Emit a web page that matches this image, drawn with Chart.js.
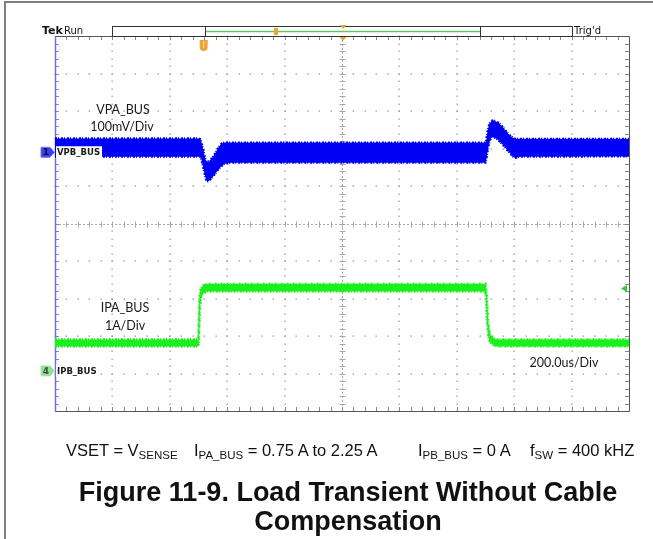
<!DOCTYPE html>
<html>
<head>
<meta charset="utf-8">
<script src="https://cdn.jsdelivr.net/npm/chart.js@4.4.1/dist/chart.umd.min.js"></script>
<style>
  html, body { margin: 0; padding: 0; background: #fff; }
  #wrap { position: relative; width: 653px; height: 539px; overflow: hidden; }
  #scope { position: absolute; left: 0; top: 0; }
  .frame-top { position: absolute; left: 4px; top: 1px; width: 649px; height: 2px; background: #808080; }
  .frame-left { position: absolute; left: 4px; top: 1px; width: 2px; height: 538px; background: #808080; }
  .cap { position: absolute; top: 442px; font: 16.5px "Liberation Sans", Arial, sans-serif; color: #111; white-space: nowrap; line-height: 16px; }
  .cap sub { font-size: 11.5px; vertical-align: -3px; line-height: 0; }
  .title { position: absolute; left: 0; width: 696px; top: 478px; text-align: center;
           font: bold 27px "Liberation Sans", Arial, sans-serif; line-height: 29px; color: #111; }
</style>
</head>
<body>
<div id="wrap">
  <canvas id="scope" width="653" height="539"></canvas>
  <div class="frame-top"></div>
  <div class="frame-left"></div>
  <div class="cap" style="left:66px">VSET = V<sub>SENSE</sub></div>
  <div class="cap" style="left:194px">I<sub>PA_BUS</sub> = 0.75 A to 2.25 A</div>
  <div class="cap" style="left:418px">I<sub>PB_BUS</sub> = 0 A</div>
  <div class="cap" style="left:530px">f<sub>SW</sub> = 400 kHZ</div>
  <div class="title">Figure 11-9. Load Transient Without Cable<br>Compensation</div>
</div>
<script>
// Horizontal: 200 us/div, 10 divisions
const timeSpanUs = [0, 2000];
const usPerDiv = 200;

// Channel 1, VPA_BUS: envelope of the switching ripple, mV relative to the channel marker
const vpaTimeUs = [0, 500, 506, 510, 514, 518, 522, 526, 530, 535, 542, 550, 558, 566, 574, 582, 590, 600, 615,
                   1000, 1500, 1503, 1507, 1511, 1516, 1522, 1528, 1535, 1545, 1555, 1565, 1575, 1585, 1597, 1605, 1620, 2000];
const vpaUpperMv = [37, 37, 35, 28, 16, 2, -12, -22, -26, -25, -20, -12, -3, 8, 18, 24, 26, 26, 26,
                    26, 26, 35, 55, 70, 79, 84, 85, 83, 79, 72, 63, 53, 45, 38, 36, 36, 36];
const vpaLowerMv = [-12, -12, -12, -20, -32, -46, -60, -72, -78, -77, -72, -65, -57, -49, -42, -36, -31, -29, -28,
                    -28, -28, -20, 0, 18, 33, 41, 40, 38, 32, 24, 16, 6, -2, -13, -15, -12, -11];

// Channel 4, IPA_BUS: current envelope in A
const ipaTimeUs = [0, 499, 501, 503, 506, 510, 516, 522, 530, 1000, 1498, 1501, 1505, 1510, 1516, 1527, 1540, 2000];
const ipaUpperA = [0.84, 0.84, 1.55, 1.95, 2.15, 2.22, 2.28, 2.31, 2.32, 2.32, 2.32, 2.32, 2.0, 1.25, 0.98, 0.88, 0.84, 0.84];
const ipaLowerA = [0.65, 0.65, 0.75, 1.2, 1.75, 1.98, 2.06, 2.09, 2.12, 2.12, 2.12, 2.0, 1.3, 0.9, 0.76, 0.69, 0.65, 0.65];

// Vertical settings: scale per division and marker position in divisions from centre
const ch1 = { scale: 100, position: 1.9, color: '#0000f4' };
const ch4 = { scale: 1, position: -3.93, color: '#1cf01c' };
const trigLevelA = 2.2;
const trigTimeUs = 518;

const pts = (xs, ys) => xs.map((x, i) => ({ x, y: ys[i] }));

// Scope graticule: 10 x 10 divisions, dotted lines, ticked centre lines and border
const graticule = {
  id: 'graticule',
  beforeDatasetsDraw(chart) {
    const { ctx, chartArea: a } = chart;
    const dw = (a.right - a.left) / 10, dh = (a.bottom - a.top) / 10;
    ctx.save();
    ctx.fillStyle = '#9a9a9a';
    for (let i = 1; i < 10; i++) {
      if (i === 5) continue;
      const x = Math.round(a.left + i * dw);
      for (let j = 0; j <= 50; j++) ctx.fillRect(x - 0.5, Math.round(a.top + j * dh / 5) - 0.5, 1.2, 1.5);
      const y = Math.round(a.top + i * dh);
      for (let j = 0; j <= 50; j++) ctx.fillRect(Math.round(a.left + j * dw / 5) - 0.5, y - 0.5, 1.5, 1.2);
    }
    // centre cross with minor ticks
    const cx = Math.round(a.left + 5 * dw) + 0.5, cy = Math.round(a.top + 5 * dh) + 0.5;
    ctx.strokeStyle = '#a8a8a8';
    ctx.lineWidth = 1;
    ctx.beginPath();
    for (let j = 0; j <= 50; j++) {
      const y = Math.round(a.top + j * dh / 5) + 0.5;
      ctx.moveTo(cx - 3, y); ctx.lineTo(cx + 3, y);
      const x = Math.round(a.left + j * dw / 5) + 0.5;
      ctx.moveTo(x, cy - 3); ctx.lineTo(x, cy + 3);
    }
    ctx.stroke();
    ctx.setLineDash([2, 2]);
    ctx.beginPath();
    ctx.moveTo(cx, a.top); ctx.lineTo(cx, a.bottom);
    ctx.moveTo(a.left, cy); ctx.lineTo(a.right, cy);
    ctx.stroke();
    ctx.setLineDash([]);
    // border ticks
    ctx.strokeStyle = '#8a8a8a';
    ctx.beginPath();
    for (let j = 1; j < 50; j++) {
      const x = Math.round(a.left + j * dw / 5) + 0.5;
      ctx.moveTo(x, a.top); ctx.lineTo(x, a.top + 4);
      ctx.moveTo(x, a.bottom); ctx.lineTo(x, a.bottom - 4);
      const y = Math.round(a.top + j * dh / 5) + 0.5;
      ctx.moveTo(a.left, y); ctx.lineTo(a.left + 4, y);
      ctx.moveTo(a.right, y); ctx.lineTo(a.right - 4, y);
    }
    ctx.stroke();
    // border
    ctx.strokeStyle = '#555';
    ctx.beginPath();
    ctx.moveTo(a.left, a.top + 0.5); ctx.lineTo(a.right + 0.5, a.top + 0.5);
    ctx.lineTo(a.right + 0.5, a.bottom + 0.5); ctx.lineTo(a.left, a.bottom + 0.5);
    ctx.stroke();
    ctx.strokeStyle = '#6f6fe0';
    ctx.lineWidth = 1.5;
    ctx.beginPath();
    ctx.moveTo(a.left + 0.5, a.top); ctx.lineTo(a.left + 0.5, a.bottom + 1);
    ctx.stroke();
    ctx.restore();
  }
};

// Status bar, channel markers and on-screen annotations
const overlay = {
  id: 'overlay',
  afterDatasetsDraw(chart) {
    const { ctx, scales } = chart;
    const xs = scales.x, yv = scales.yV, yi = scales.yI;
    ctx.save();

    // header text
    ctx.fillStyle = '#111';
    ctx.textBaseline = 'alphabetic';
    ctx.font = 'bold 11px "DejaVu Sans", sans-serif';
    ctx.fillText('Tek', 42, 34);
    ctx.font = '10px "DejaVu Sans", sans-serif';
    ctx.fillText('Run', 64, 34);
    ctx.fillText("Trig'd", 574, 34);

    // record bar
    ctx.strokeStyle = '#333';
    ctx.lineWidth = 1;
    ctx.strokeRect(112.5, 26.5, 460, 10);
    ctx.beginPath();
    ctx.moveTo(205.5, 26.5); ctx.lineTo(205.5, 36.5);
    ctx.moveTo(480.5, 26.5); ctx.lineTo(480.5, 36.5);
    ctx.stroke();
    ctx.strokeStyle = '#62c462';
    ctx.lineWidth = 1.5;
    ctx.beginPath();
    ctx.moveTo(206, 31.5); ctx.lineTo(480, 31.5);
    ctx.stroke();

    // orange markers
    ctx.fillStyle = '#f2a23a';
    ctx.fillRect(274, 28, 4, 7);
    const tri = (x, y) => { ctx.beginPath(); ctx.moveTo(x - 3.5, y); ctx.lineTo(x + 3.5, y); ctx.lineTo(x, y + 4); ctx.closePath(); ctx.fill(); };
    tri(343, 25);
    tri(343, 37);
    const tx = xs.getPixelForValue(trigTimeUs);
    ctx.beginPath();
    ctx.moveTo(tx - 4, 40); ctx.lineTo(tx + 4, 40); ctx.lineTo(tx + 4, 47);
    ctx.quadraticCurveTo(tx + 4, 51, tx, 51); ctx.quadraticCurveTo(tx - 4, 51, tx - 4, 47);
    ctx.closePath(); ctx.fill();
    ctx.fillStyle = '#ffd9a0';
    ctx.fillRect(tx - 0.5, 41, 1, 7);

    // trigger level marker on right edge
    const ty = yi.getPixelForValue(trigLevelA);
    ctx.fillStyle = '#2fcf2f';
    ctx.beginPath();
    ctx.moveTo(621, ty); ctx.lineTo(627, ty - 3.5); ctx.lineTo(627, ty + 3.5); ctx.closePath(); ctx.fill();

    // channel ground markers
    const marker = (y, fill, edge, label, textColor) => {
      ctx.fillStyle = fill;
      ctx.strokeStyle = edge;
      ctx.lineWidth = 1;
      ctx.beginPath();
      ctx.moveTo(41, y - 5); ctx.lineTo(50, y - 5); ctx.lineTo(54.5, y); ctx.lineTo(50, y + 5); ctx.lineTo(41, y + 5);
      ctx.closePath(); ctx.fill(); ctx.stroke();
      ctx.fillStyle = textColor;
      ctx.font = 'bold 9px "DejaVu Sans", sans-serif';
      ctx.textAlign = 'center';
      ctx.textBaseline = 'middle';
      ctx.fillText(label, 46, y + 0.5);
    };
    const y1 = yv.getPixelForValue(0);
    const y4 = yi.getPixelForValue(0);
    marker(y1, '#3d3de8', '#7a7af0', '1', '#0a0a60');
    marker(y4, '#8fe08f', '#a8e8a8', '4', '#4a4a4a');

    // channel name tags
    const tag = (text, y) => {
      ctx.font = 'bold 8.5px "DejaVu Sans", sans-serif';
      ctx.textAlign = 'left';
      ctx.textBaseline = 'middle';
      const w = ctx.measureText(text).width;
      ctx.fillStyle = '#fff';
      ctx.fillRect(56, y - 6, w + 3, 12);
      ctx.fillStyle = '#1a1a1a';
      ctx.fillText(text, 57, y + 0.5);
    };
    tag('VPB_BUS', y1);
    tag('IPB_BUS', y4);

    // annotations
    ctx.fillStyle = '#1a1a1a';
    ctx.font = '12.5px Lato, "Open Sans", sans-serif';
    ctx.textAlign = 'center';
    ctx.textBaseline = 'middle';
    ctx.fillText('VPA_BUS', 123, 110);
    ctx.fillText('100mV/Div', 122, 127);
    ctx.fillText('IPA_BUS', 125, 308);
    ctx.fillText('1A/Div', 125, 326);
    ctx.fillText('200.0us/Div', 564, 363);
    ctx.restore();
  }
};

// Ripple envelope edge: a short broken stroke gives the band its ragged border
const band = (label, data, color, axis, fill) => ({
  label, data, yAxisID: axis,
  borderColor: color, backgroundColor: color,
  borderWidth: 2.2, borderDash: [2, 1, 1, 2], pointRadius: 0, tension: 0, fill
});

new Chart(document.getElementById('scope'), {
  type: 'line',
  data: {
    datasets: [
      band('VPA_BUS max', pts(vpaTimeUs, vpaUpperMv), ch1.color, 'yV', false),
      band('VPA_BUS min', pts(vpaTimeUs, vpaLowerMv), ch1.color, 'yV', '-1'),
      band('IPA_BUS max', pts(ipaTimeUs, ipaUpperA), ch4.color, 'yI', false),
      band('IPA_BUS min', pts(ipaTimeUs, ipaLowerA), ch4.color, 'yI', '-1')
    ]
  },
  options: {
    responsive: false,
    animation: false,
    devicePixelRatio: 1,
    layout: { padding: { left: 55, top: 36, right: 24, bottom: 128 } },
    plugins: { legend: { display: false }, tooltip: { enabled: false }, title: { display: false } },
    scales: {
      x: { type: 'linear', min: timeSpanUs[0], max: timeSpanUs[1], display: false, ticks: { stepSize: usPerDiv } },
      yV: { type: 'linear', min: (-5 - ch1.position) * ch1.scale, max: (5 - ch1.position) * ch1.scale, display: false },
      yI: { type: 'linear', min: (-5 - ch4.position) * ch4.scale, max: (5 - ch4.position) * ch4.scale, display: false }
    }
  },
  plugins: [graticule, overlay]
});
</script>
</body>
</html>
